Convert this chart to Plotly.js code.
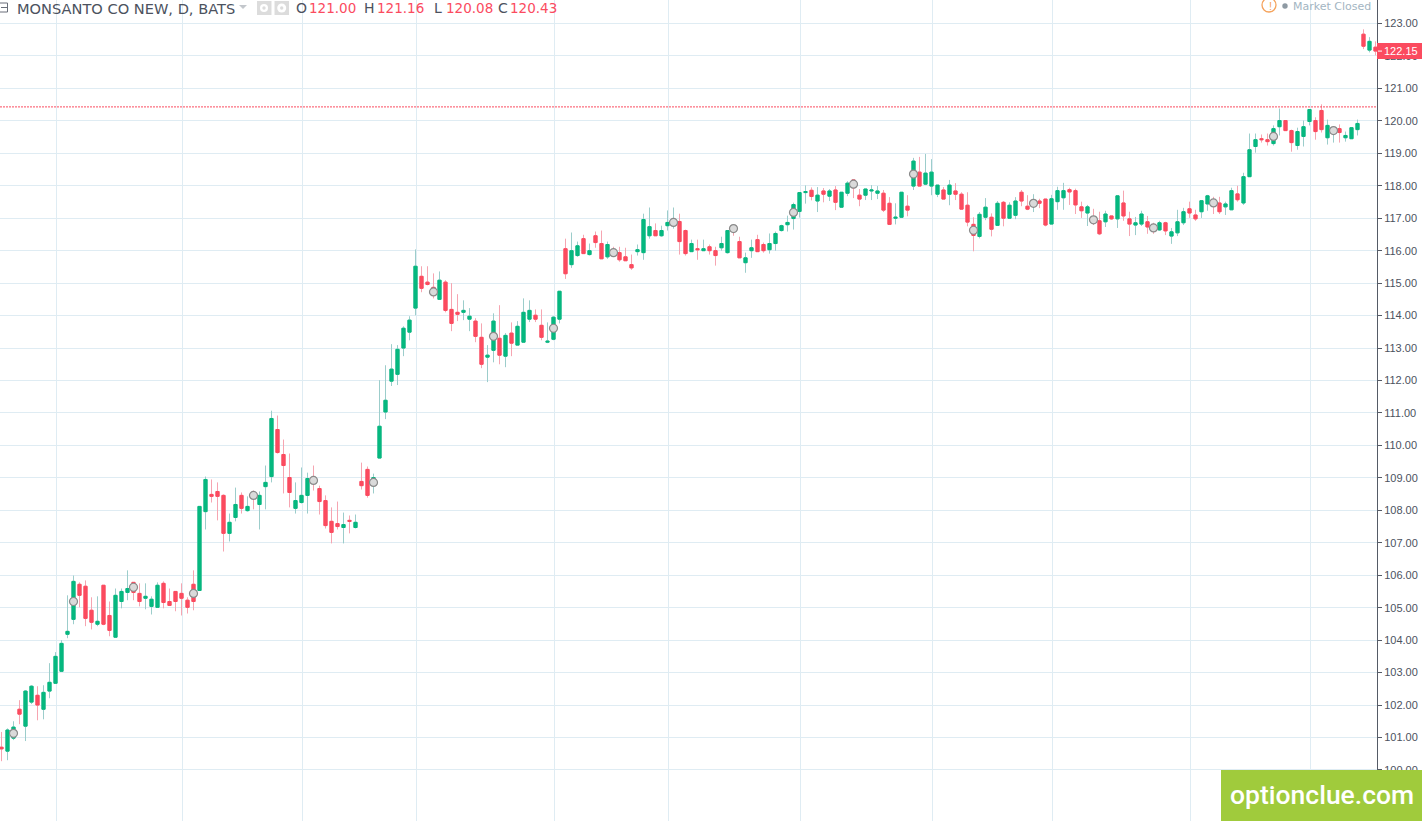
<!DOCTYPE html>
<html>
<head>
<meta charset="utf-8">
<script src="https://cdn.plot.ly/plotly-3.0.1.min.js"></script>
<style>html,body{margin:0;padding:0;background:#fff;overflow:hidden}#chart{width:1422px;height:821px}</style>
</head>
<body>
<div id="chart"></div>
<script>
const opens = [
100.70,100.58,100.98,101.87,101.35,102.09,102.30,101.87,102.43,102.67,
103.04,104.18,104.64,105.72,105.66,104.92,104.49,105.69,104.76,104.09,
105.19,105.47,105.78,105.44,105.29,105.04,105.01,105.75,105.19,105.50,
105.44,105.23,105.72,105.53,107.96,108.49,108.58,108.46,107.29,107.78,
108.46,107.99,108.52,108.18,108.73,109.04,110.49,109.72,109.01,108.06,
108.24,108.46,108.98,108.67,108.30,107.66,107.59,107.47,107.69,107.47,
108.89,109.26,108.76,109.61,111.03,111.98,112.19,113.00,113.49,114.23,
115.21,115.03,114.87,114.50,115.03,114.19,114.10,114.10,113.89,113.83,
113.33,112.72,112.93,113.30,112.75,113.46,113.09,113.18,113.89,114.01,
113.70,113.18,113.27,113.89,116.06,115.57,115.85,116.37,115.88,116.46,
116.22,115.81,116.00,115.94,115.81,115.57,115.97,115.94,116.46,116.62,
116.46,116.77,116.77,116.90,116.62,115.97,116.06,116.00,116.12,116.00,
116.09,115.94,116.74,116.28,115.63,116.00,116.34,116.19,116.03,116.22,
116.62,116.80,116.99,117.21,117.79,117.86,117.53,117.84,117.68,117.87,
117.34,117.77,118.18,117.71,117.71,117.84,117.77,117.77,117.46,117.00,
117.03,117.37,117.99,118.42,118.05,117.99,117.74,117.87,117.74,117.84,
117.74,117.40,116.81,116.44,117.03,117.03,116.78,117.49,117.00,117.09,
117.80,117.37,117.40,117.53,117.59,116.82,117.51,117.63,117.88,117.85,
117.35,117.16,117.01,116.92,116.89,117.07,116.98,117.47,116.98,116.79,
116.82,116.89,116.79,116.64,116.86,116.45,116.55,116.86,117.29,117.10,
117.20,117.44,117.54,117.47,117.35,117.26,117.75,117.47,118.28,119.21,
119.45,119.42,119.30,119.82,120.01,119.70,119.24,119.52,119.98,120.01,
120.32,119.48,119.64,119.76,119.48,119.45,119.73,122.67,122.18,122.27];
const highs = [
101.17,101.28,101.50,102.15,102.46,102.61,102.58,102.61,103.29,103.63,
104.00,105.38,105.99,105.78,105.84,105.32,105.35,105.69,105.19,105.59,
105.59,106.15,105.78,105.75,105.75,105.35,105.78,105.81,105.59,105.50,
105.75,105.32,106.15,108.12,109.04,108.95,108.86,108.49,107.90,108.70,
108.55,108.43,108.61,108.58,109.38,111.07,110.92,110.18,109.75,108.86,
109.32,109.16,109.38,108.76,108.46,108.09,108.27,107.93,107.84,107.87,
109.47,109.35,109.13,112.01,112.47,113.12,113.09,113.67,113.98,116.04,
115.52,115.52,115.30,115.36,115.09,115.00,114.66,114.47,114.23,113.92,
113.76,113.09,114.07,114.32,113.46,113.79,113.83,114.53,114.47,114.19,
114.19,113.79,113.98,114.75,116.37,116.56,116.28,116.49,116.22,116.59,
116.62,116.28,116.12,116.12,116.09,115.88,116.19,117.14,117.33,116.84,
116.77,117.24,117.33,117.14,116.65,116.34,116.34,116.34,116.19,116.12,
116.43,116.62,116.80,116.43,115.94,116.34,116.49,116.25,116.53,116.59,
116.80,117.08,117.48,117.79,118.01,117.95,117.96,117.93,117.90,117.99,
117.80,118.14,118.18,117.90,117.90,118.02,117.99,117.87,117.65,117.46,
117.80,117.71,118.86,118.89,118.98,118.82,118.02,117.96,118.18,118.08,
117.80,117.80,117.03,117.19,117.62,117.15,117.53,117.53,117.49,117.65,
117.87,117.71,117.74,117.60,117.59,117.72,117.97,118.09,117.94,117.91,
117.51,117.41,117.29,117.20,117.23,117.07,117.69,117.85,117.20,117.04,
117.23,117.07,116.86,116.92,116.89,116.70,117.26,117.32,117.51,117.26,
117.54,117.72,117.66,117.66,117.51,117.94,118.00,118.40,119.61,119.61,
119.58,119.61,119.86,120.38,120.01,119.73,119.79,120.01,120.35,120.11,
120.51,120.04,119.82,119.89,119.67,119.79,120.04,122.82,122.58,122.45];
const lows = [
100.27,100.30,100.92,101.41,100.89,102.03,101.53,101.56,102.21,102.67,
103.04,104.06,104.49,105.01,104.43,104.33,104.43,104.46,104.12,104.09,
104.98,105.23,105.23,105.04,104.95,104.79,105.01,104.98,105.05,104.89,
104.76,104.82,104.92,105.53,107.41,108.24,107.69,106.73,107.04,107.66,
107.90,107.96,108.03,107.41,108.03,108.86,109.75,108.52,108.09,107.90,
108.21,107.90,108.61,107.87,107.44,106.98,107.41,106.98,107.29,107.44,
108.64,108.39,108.52,109.61,110.81,111.83,111.86,112.75,113.24,114.01,
114.72,114.93,114.53,114.50,114.10,113.52,113.83,113.86,113.52,113.18,
112.38,111.95,112.56,112.50,112.41,112.75,113.09,113.18,113.80,113.80,
113.24,113.15,113.24,113.76,115.13,115.47,115.81,115.91,115.85,116.09,
115.75,115.75,115.81,115.66,115.69,115.41,115.85,115.72,116.37,116.46,
116.43,116.62,116.68,115.88,115.85,115.97,115.72,116.00,115.88,115.54,
116.00,115.91,116.46,115.78,115.32,115.78,115.97,115.94,115.91,116.00,
116.59,116.59,116.65,117.02,117.45,117.55,117.19,117.49,117.53,117.25,
117.34,117.68,117.62,117.37,117.56,117.56,117.59,117.19,116.81,116.81,
117.03,117.06,117.87,117.99,118.02,117.71,117.65,117.59,117.40,117.56,
117.28,116.75,115.98,116.38,116.94,116.44,116.78,116.75,117.00,116.97,
117.37,117.25,117.19,117.31,116.75,116.82,117.26,117.26,117.41,117.13,
117.01,116.76,116.79,116.48,116.73,116.95,116.70,116.92,116.45,116.48,
116.76,116.52,116.52,116.61,116.48,116.21,116.45,116.79,117.01,116.92,
117.01,117.23,117.13,117.13,117.10,117.26,117.51,117.41,118.28,119.02,
119.33,119.24,119.24,119.55,119.70,119.05,119.11,119.21,119.86,119.42,
119.64,119.27,119.33,119.33,119.36,119.45,119.55,122.21,122.11,122.02];
const closes = [
100.65,101.23,101.32,101.72,102.43,102.58,102.00,102.39,102.70,103.50,
103.90,104.27,105.81,105.38,104.67,104.55,104.58,104.49,104.30,105.38,
105.50,105.59,105.47,105.19,105.35,105.26,105.69,105.16,105.07,105.19,
105.29,105.01,105.19,108.12,108.95,108.43,108.43,107.29,107.63,108.18,
108.06,108.12,108.42,108.46,108.86,110.83,109.78,109.38,108.55,108.30,
108.46,108.98,108.85,108.27,107.53,107.32,107.50,107.56,107.66,107.63,
108.76,108.46,109.01,110.59,111.39,112.35,112.96,113.61,113.86,115.52,
114.84,114.96,114.63,115.09,114.16,113.76,114.04,114.16,113.98,113.36,
112.50,112.78,113.83,112.78,113.39,113.15,113.67,114.10,114.16,113.89,
113.33,113.21,113.95,114.75,115.29,116.00,116.15,115.91,116.00,116.25,
115.75,116.19,115.88,115.72,115.69,115.47,116.03,116.96,116.74,116.46,
116.62,116.87,116.93,116.28,115.91,116.22,116.03,116.06,116.00,115.85,
116.22,116.62,116.62,115.78,115.78,116.09,115.97,116.00,116.22,116.53,
116.77,116.87,117.42,117.79,117.82,117.67,117.71,117.74,117.84,117.49,
117.80,118.08,117.94,117.59,117.90,117.87,117.84,117.25,116.81,117.03,
117.80,117.25,118.76,117.99,118.39,118.42,118.02,117.59,118.02,117.74,
117.28,116.88,116.47,117.12,117.34,116.66,117.46,117.00,117.40,117.53,
117.53,117.28,117.53,117.46,116.79,117.60,117.85,117.85,117.81,117.41,
117.23,117.35,116.89,116.52,117.13,116.98,117.69,117.07,116.82,116.86,
117.13,116.73,116.64,116.86,116.61,116.58,116.89,117.20,117.16,116.98,
117.54,117.69,117.41,117.20,117.44,117.85,117.57,118.28,119.11,119.42,
119.42,119.36,119.76,120.01,119.70,119.33,119.67,119.82,120.35,119.67,
119.73,119.86,119.76,119.64,119.55,119.79,119.92,122.30,122.45,122.15];

const eventBars = [2,12,22,32,42,52,62,72,82,92,102,112,122,132,142,152,162,172,182,192,202,212,222];
const eventPrices = [101.13,105.19,105.63,105.44,108.46,108.92,108.86,114.73,113.36,113.61,115.94,116.87,116.68,117.18,118.05,118.36,116.63,117.46,116.95,116.70,117.47,119.52,119.70];
const monthStartBars = [9,30,50,69,92,111,133,155,175,198,218];
const priceTicks = [100,101,102,103,104,105,106,107,108,109,110,111,112,113,114,115,116,117,118,119,120,121,122,123];
const priorClose = 120.43;
const lastPrice = 122.15;
const legendTitle = "MONSANTO CO NEW, D, BATS";
const legendFields = [["O","121.00"],["H","121.16"],["L","120.08"],["C","120.43"]];

const W = 1422, H = 821, AX = 1377;
const px = x => x / AX, py = y => 1 - y / H;
const GREEN = "#06b87f", RED = "#fb4b5f", GREEN_W = "#9ccdcb", RED_W = "#f6a5b1";
const TXT = "#4c525e", GRID = "#dfecf3";
const bars = opens.map((_, i) => i);

const wickTrace = {
  type: "candlestick", x: bars, open: opens, high: highs, low: lows, close: closes,
  increasing: {line: {color: GREEN_W, width: 1}, fillcolor: GREEN_W},
  decreasing: {line: {color: RED_W, width: 1}, fillcolor: RED_W},
  whiskerwidth: 0, hoverinfo: "skip", showlegend: false
};
const bodyTrace = {
  type: "candlestick", x: bars, open: opens, close: closes,
  high: opens.map((o, i) => Math.max(o, closes[i])),
  low: opens.map((o, i) => Math.min(o, closes[i])),
  increasing: {line: {color: GREEN, width: 1}, fillcolor: GREEN},
  decreasing: {line: {color: RED, width: 1}, fillcolor: RED},
  whiskerwidth: 0, hoverinfo: "skip", showlegend: false
};
const eventTrace = {
  type: "scatter", mode: "markers", x: eventBars, y: eventPrices,
  marker: {size: 8, color: "#dadada", line: {color: "#8a8a8a", width: 1.2}},
  hoverinfo: "skip", showlegend: false
};

const FONT = "DejaVu Sans, Verdana, sans-serif";
const note = (text, x, y, size, color, extra) => Object.assign({
  text: text, xref: "paper", yref: "paper", x: px(x), y: py(y),
  xanchor: "left", yanchor: "middle", showarrow: false, borderpad: 0,
  font: {family: FONT, size: size, color: color}
}, extra || {});

const annotations = [
  note(legendTitle, 16, 8, 14.6, TXT),
  note(legendFields[0][0], 295, 8, 14, TXT), note(legendFields[0][1], 308, 8, 13.5, RED),
  note(legendFields[1][0], 363, 8, 14, TXT), note(legendFields[1][1], 376, 8, 13.5, RED),
  note(legendFields[2][0], 433, 8, 14, TXT), note(legendFields[2][1], 445, 8, 13.5, RED),
  note(legendFields[3][0], 497, 8, 14, TXT), note(legendFields[3][1], 509, 8, 13.5, RED),
  note("Market Closed", 1292, 6.5, 11, "#a3b5c2"),
  note("!", 1267.5, 6.5, 10, "#f5a35c", {font: {family: "Liberation Sans, sans-serif", size: 11, color: "#f5a35c"}}),
  {text: lastPrice.toFixed(2), xref: "paper", yref: "y", x: px(1401), y: lastPrice, xanchor: "center", yanchor: "middle",
   showarrow: false, borderpad: 0,
   font: {family: "Liberation Sans, Arial, sans-serif", size: 11, color: "#ffffff"}},
  note("optionclue.com", 1228.5, 794.5, 26.5, "#ffffff", {font: {family: "Roboto, sans-serif", size: 26.5, color: "#ffffff", weight: 500}})
];

const rect = (x0, y0, x1, y1, fill, line) => ({
  type: "rect", xref: "paper", yref: "paper", x0: px(x0), x1: px(x1), y0: py(y0), y1: py(y1),
  fillcolor: fill, line: line || {width: 0}, layer: "above"
});
const circle = (cx, cy, r, fill, line) => ({
  type: "circle", xref: "paper", yref: "paper", x0: px(cx - r), x1: px(cx + r), y0: py(cy - r), y1: py(cy + r),
  fillcolor: fill, line: line || {width: 0}, layer: "above"
});
const shapes = [
  {type: "line", xref: "paper", yref: "y", x0: 0, x1: 1, y0: priorClose, y1: priorClose,
   line: {color: RED, width: 1, dash: "2px,1px"}, layer: "above"},
  rect(-1, 3, 7.5, 12, "rgba(0,0,0,0)", {color: "#6a6f7a", width: 1}),
  {type: "line", xref: "paper", yref: "paper", x0: px(1), x1: px(7), y0: py(7.5), y1: py(7.5), line: {color: "#6a6f7a", width: 1}, layer: "above"},
  {type: "path", xref: "paper", yref: "paper",
   path: `M ${px(239)} ${py(5)} L ${px(247)} ${py(5)} L ${px(243)} ${py(9)} Z`, fillcolor: "#c3c7cc", line: {width: 0}, layer: "above"},
  rect(257, 1, 271.5, 15, "#dcdcdc"), circle(264, 8, 4, "#ffffff"), circle(264, 8, 1.7, "#dcdcdc"),
  rect(274.5, 1, 289, 15, "#dcdcdc"), circle(281.7, 8, 4.5, "#ffffff"), circle(281.7, 8, 1.7, "#dcdcdc"),
  circle(1269, 5, 7, "rgba(0,0,0,0)", {color: "#f5a35c", width: 1.3}),
  circle(1285, 6, 2.7, "#8e9aa3"),
  rect(1377, 43, 1422, 59, RED),
  {type: "line", xref: "paper", yref: "y", x0: px(1378), x1: px(1382), y0: lastPrice, y1: lastPrice, line: {color: "#ffffff", width: 1}, layer: "above"},
  rect(1221, 770, 1422, 821, "#a0cb3c")
];

const layout = {
  width: W, height: H, autosize: false,
  margin: {l: 0, r: W - AX, t: 0, b: 0, pad: 0},
  paper_bgcolor: "#ffffff", plot_bgcolor: "#ffffff",
  showlegend: false, boxgap: 0.25, dragmode: false,
  xaxis: {
    type: "linear", range: [-0.25, 229.25], rangeslider: {visible: false},
    tickmode: "array", tickvals: monthStartBars.map(b => b + 1 / 6), showticklabels: false,
    showgrid: true, gridcolor: GRID, gridwidth: 1, zeroline: false, showline: false, ticks: ""
  },
  yaxis: {
    side: "right", type: "linear", range: [98.427, 123.724],
    tickmode: "array", tickvals: priceTicks, tickformat: ".2f",
    showgrid: true, gridcolor: GRID, gridwidth: 1, zeroline: false,
    showline: true, linecolor: "#555b66", linewidth: 1,
    ticks: "outside", ticklen: 4, tickwidth: 1, tickcolor: "#555b66",
    tickfont: {family: "Liberation Sans, Arial, sans-serif", size: 11, color: TXT}
  },
  shapes: shapes, annotations: annotations
};
Plotly.newPlot("chart", [wickTrace, bodyTrace, eventTrace], layout, {staticPlot: true, displayModeBar: false});
</script>
</body>
</html>
